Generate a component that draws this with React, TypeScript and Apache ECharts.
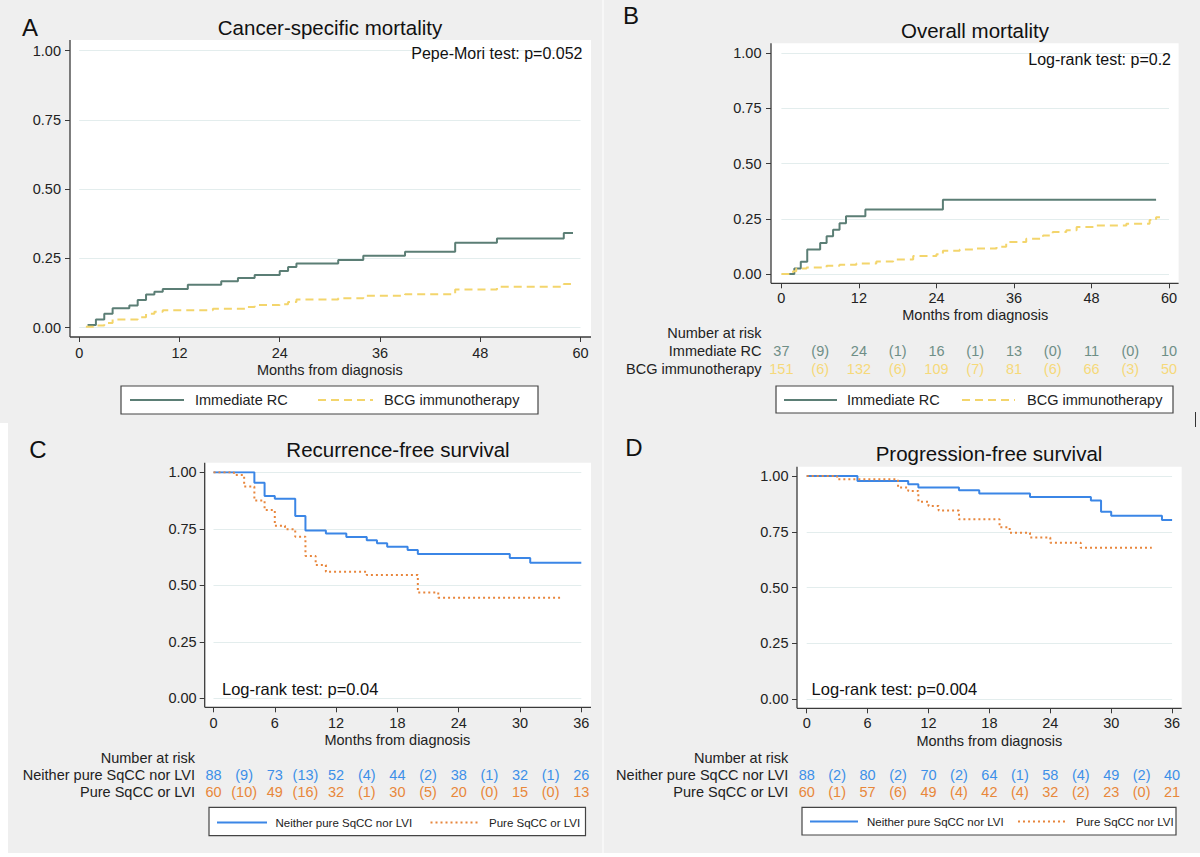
import React, { useEffect, useRef } from "react";
import * as echarts from "echarts";

const FONT = '"Liberation Sans", Arial, Helvetica, sans-serif';

// ---------- Panel A: Cancer-specific mortality (cumulative incidence) ----------
const aRcTime = [1, 2, 3, 4, 6, 7, 8, 9, 10, 13, 17, 19, 21, 24, 25, 26, 31, 34, 39, 45, 50, 58, 59.1];
const aRcValue = [0.01, 0.03, 0.05, 0.07, 0.08, 0.1, 0.12, 0.13, 0.14, 0.155, 0.168, 0.179, 0.19, 0.205, 0.219, 0.232, 0.244, 0.26, 0.274, 0.307, 0.322, 0.342, 0.342];
const aBcgTime = [0.8, 1.7, 3, 4, 7, 8, 9, 10, 16, 20, 21, 24, 25, 26, 31, 34, 39, 45, 50, 58, 59.1];
const aBcgValue = [0.003, 0.008, 0.017, 0.03, 0.038, 0.05, 0.058, 0.063, 0.068, 0.075, 0.082, 0.085, 0.093, 0.102, 0.106, 0.115, 0.121, 0.138, 0.148, 0.158, 0.158];

// ---------- Panel B: Overall mortality ----------
const bRcTime = [0.9, 2, 3, 4, 6, 7, 8, 9, 10, 13, 25, 58];
const bRcValue = [0, 0.025, 0.055, 0.111, 0.141, 0.171, 0.2, 0.23, 0.262, 0.292, 0.336, 0.336];
const bBcgTime = [0, 1.8, 2.3, 3.9, 7, 9, 11.6, 14.7, 17.3, 20.4, 24, 25, 27.6, 30.2, 33.3, 34.8, 37.9, 40.5, 42, 44.1, 45.7, 48.8, 53.4, 57, 58, 58.6];
const bBcgValue = [0, 0.012, 0.025, 0.03, 0.037, 0.042, 0.048, 0.057, 0.066, 0.081, 0.09, 0.105, 0.111, 0.115, 0.123, 0.145, 0.16, 0.175, 0.19, 0.198, 0.213, 0.22, 0.228, 0.245, 0.257, 0.257];

const riskBTicks = [0, 6, 12, 18, 24, 30, 36, 42, 48, 54, 60];
const riskBRc = ["37", "(9)", "24", "(1)", "16", "(1)", "13", "(0)", "11", "(0)", "10"];
const riskBBcg = ["151", "(6)", "132", "(6)", "109", "(7)", "81", "(6)", "66", "(3)", "50"];

// ---------- Panel C: Recurrence-free survival ----------
const cNeitherTime = [0, 4, 5, 6, 8, 9, 11, 13, 15, 16, 17, 19, 20, 29, 31, 36];
const cNeitherValue = [1, 0.954, 0.895, 0.883, 0.807, 0.742, 0.729, 0.714, 0.699, 0.686, 0.671, 0.656, 0.639, 0.621, 0.6, 0.6];
const cPureTime = [0, 2, 3, 4, 5, 6, 7, 8, 9, 10, 11, 15, 20, 22, 34];
const cPureValue = [1, 0.988, 0.937, 0.875, 0.833, 0.763, 0.748, 0.715, 0.63, 0.59, 0.56, 0.546, 0.468, 0.445, 0.445];

const riskCDTicks = [0, 3, 6, 9, 12, 15, 18, 21, 24, 27, 30, 33, 36];
const riskCNeither = ["88", "(9)", "73", "(13)", "52", "(4)", "44", "(2)", "38", "(1)", "32", "(1)", "26"];
const riskCPure = ["60", "(10)", "49", "(16)", "32", "(1)", "30", "(5)", "20", "(0)", "15", "(0)", "13"];

// ---------- Panel D: Progression-free survival ----------
const dNeitherTime = [0, 5, 10, 11, 15, 17, 22, 28, 29, 30, 35, 36];
const dNeitherValue = [1, 0.978, 0.963, 0.948, 0.936, 0.922, 0.906, 0.89, 0.84, 0.822, 0.803, 0.803];
const dPureTime = [0, 3, 9, 10, 11, 12, 13, 15, 19, 20, 22, 24, 27, 34];
const dPureValue = [1, 0.985, 0.948, 0.933, 0.885, 0.866, 0.845, 0.806, 0.77, 0.746, 0.725, 0.701, 0.679, 0.679];

const riskDNeither = ["88", "(2)", "80", "(2)", "70", "(2)", "64", "(1)", "58", "(4)", "49", "(2)", "40"];
const riskDPure = ["60", "(1)", "57", "(6)", "49", "(4)", "42", "(4)", "32", "(2)", "23", "(0)", "21"];

const yTicks = [0, 0.25, 0.5, 0.75, 1];

// colours
const GREEN = "#5b7e75";
const GREEN_TXT = "#6e8e86";
const YELLOW = "#f3d56c";
const YELLOW_TXT = "#f6d97a";
const BLUE = "#3b86e6";
const BLUE_TXT = "#3d8fe8";
const ORANGE = "#e8863c";
const ORANGE_TXT = "#e8873a";
const INK = "#222";

const pairs = (t: number[], v: number[]) => t.map((x, i) => [x, v[i]]);

// layout (pixel geometry)
const PANELS = [
  { box: { l: 70, r: 591, t: 40, b: 337 }, grid: { l: 79.2, r: 580.5, t: 50.7, b: 327.7 }, xMax: 60, xInt: 12, yMargin: 9, xMargin: 8.5, nameGap: 25 },
  { box: { l: 771, r: 1178.6, t: 43.3, b: 283.3 }, grid: { l: 781.4, r: 1169, t: 53.3, b: 274 }, xMax: 60, xInt: 12, yMargin: 9.5, xMargin: 7, nameGap: 24 },
  { box: { l: 204.7, r: 591, t: 462.7, b: 707.3 }, grid: { l: 213.5, r: 581.3, t: 472.3, b: 698.3 }, xMax: 36, xInt: 6, yMargin: 8, xMargin: 8.5, nameGap: 25 },
  { box: { l: 797, r: 1181.7, t: 466.7, b: 708.3 }, grid: { l: 806.7, r: 1172.1, t: 476, b: 699.3 }, xMax: 36, xInt: 6, yMargin: 8.5, xMargin: 7.5, nameGap: 25 },
];

function txt(x: number, y: number, text: string, size: number, fill: string, align = "left", vAlign = "middle", z = 20) {
  return {
    type: "text",
    x,
    y,
    z,
    silent: true,
    style: {
      text,
      fill,
      fontSize: size,
      fontFamily: FONT,
      align,
      verticalAlign: vAlign,
      textAlign: align,
      textVerticalAlign: vAlign,
    },
  };
}

function line(x1: number, y1: number, x2: number, y2: number, stroke: string, lineWidth: number, lineDash?: number[], z = 20) {
  return {
    type: "line",
    z,
    silent: true,
    shape: { x1, y1, x2, y2 },
    style: { stroke, lineWidth, lineDash: lineDash || null },
  };
}

function rect(x: number, y: number, w: number, h: number, fill: string, stroke?: string, z = 20) {
  return {
    type: "rect",
    z,
    silent: true,
    shape: { x, y, width: w, height: h },
    style: { fill, stroke: stroke || null, lineWidth: stroke ? 1.2 : 0 },
  };
}

export default function App() {
  const ref = useRef<HTMLDivElement>(null);

  useEffect(() => {
    if (!ref.current) return;
    const chart = echarts.init(ref.current, null, { renderer: "svg" });

    const grid = PANELS.map((p) => ({
      left: p.grid.l,
      top: p.grid.t,
      width: p.grid.r - p.grid.l,
      height: p.grid.b - p.grid.t,
      containLabel: false,
    }));

    const xAxis = PANELS.map((p, i) => ({
      type: "value",
      gridIndex: i,
      min: 0,
      max: p.xMax,
      interval: p.xInt,
      offset: p.box.b - p.grid.b,
      axisLine: { show: false, onZero: false },
      axisTick: { show: true, length: 5, lineStyle: { color: "#3a3a3a", width: 1 } },
      axisLabel: { fontSize: 14.5, color: INK, fontFamily: FONT, margin: p.xMargin },
      splitLine: { show: false },
      name: "Months from diagnosis",
      nameLocation: "middle",
      nameGap: p.nameGap,
      nameTextStyle: { fontSize: 14.5, color: INK, fontFamily: FONT, verticalAlign: "top" },
    }));

    const yAxis = PANELS.map((p, i) => ({
      type: "value",
      gridIndex: i,
      min: 0,
      max: 1,
      interval: 0.25,
      offset: p.grid.l - p.box.l,
      axisLine: { show: false, onZero: false },
      axisTick: { show: true, length: 5, lineStyle: { color: "#3a3a3a", width: 1 } },
      axisLabel: {
        fontSize: 14.5,
        color: INK,
        fontFamily: FONT,
        margin: p.yMargin,
        formatter: (v: number) => (yTicks.includes(v) ? v.toFixed(2) : ""),
      },
      splitLine: { show: true, lineStyle: { color: "#e3eded", width: 1 } },
    }));

    const mk = (name: string, idx: number, data: number[][], color: string, type: any) => ({
      type: "line",
      name,
      xAxisIndex: idx,
      yAxisIndex: idx,
      data,
      step: "end",
      showSymbol: false,
      symbol: "none",
      lineStyle: { color, width: 2, type },
      itemStyle: { color },
      z: 5,
    });

    const series = [
      mk("Immediate RC", 0, pairs(aRcTime, aRcValue), GREEN, "solid"),
      mk("BCG immunotherapy", 0, pairs(aBcgTime, aBcgValue), YELLOW, [8, 5]),
      mk("Immediate RC", 1, pairs(bRcTime, bRcValue), GREEN, "solid"),
      mk("BCG immunotherapy", 1, pairs(bBcgTime, bBcgValue), YELLOW, [8, 5]),
      mk("Neither pure SqCC nor LVI", 2, pairs(cNeitherTime, cNeitherValue), BLUE, "solid"),
      mk("Pure SqCC or LVI", 2, pairs(cPureTime, cPureValue), ORANGE, [2, 3]),
      mk("Neither pure SqCC nor LVI", 3, pairs(dNeitherTime, dNeitherValue), BLUE, "solid"),
      mk("Pure SqCC nor LVI", 3, pairs(dPureTime, dPureValue), ORANGE, [2, 3]),
    ];

    chart.setOption({
      animation: false,
      backgroundColor: "#efefef",
      grid,
      xAxis,
      yAxis,
      series,
    });

    const g: any[] = [];

    // page decorations
    g.push(line(603, 0, 603, 857, "#f7f7f7", 2, undefined, -20));
    g.push(rect(0, 423, 8, 434, "#ffffff", undefined, -20));
    g.push(rect(0, 853, 1200, 4, "#ffffff", undefined, -20));
    g.push(line(1195.5, 412, 1195.5, 427, "#333", 1));

    // plot boxes & axis lines
    PANELS.forEach((p) => {
      g.push(rect(p.box.l, p.box.t, p.box.r - p.box.l, p.box.b - p.box.t, "#ffffff", undefined, -10));
      g.push(line(p.box.l, p.box.t, p.box.l, p.box.b, "#3a3a3a", 1.3, undefined, 6));
      g.push(line(p.box.l, p.box.b, p.box.r, p.box.b, "#3a3a3a", 1.3, undefined, 6));
    });

    // panel letters
    g.push(txt(30, 27, "A", 24, "#111", "center"));
    g.push(txt(631, 15, "B", 24, "#111", "center"));
    g.push(txt(38, 449.5, "C", 24, "#111", "center"));
    g.push(txt(634, 447, "D", 24, "#111", "center"));

    // titles
    g.push(txt(330, 27, "Cancer-specific mortality", 20.5, "#111", "center"));
    g.push(txt(975, 30.5, "Overall mortality", 20.5, "#111", "center"));
    g.push(txt(398, 449, "Recurrence-free survival", 20.5, "#111", "center"));
    g.push(txt(989, 453, "Progression-free survival", 20.5, "#111", "center"));

    // test annotations
    g.push(txt(582.5, 53.5, "Pepe-Mori test: p=0.052", 16, "#111", "right"));
    g.push(txt(1171, 59.5, "Log-rank test: p=0.2", 16, "#111", "right"));
    g.push(txt(222, 688.5, "Log-rank test: p=0.04", 16.5, "#111", "left"));
    g.push(txt(811.6, 688.5, "Log-rank test: p=0.004", 16.5, "#111", "left"));

    // risk tables
    const riskTable = (
      axisIdx: number,
      ticks: number[],
      labelRight: number,
      rows: { label: string; values: string[]; color: string }[],
      yTop: number,
      yRows: number[]
    ) => {
      g.push(txt(labelRight, yTop, "Number at risk", 14.5, INK, "right"));
      rows.forEach((row, ri) => {
        g.push(txt(labelRight, yRows[ri], row.label, 14.5, INK, "right"));
        ticks.forEach((t, k) => {
          const px = chart.convertToPixel({ xAxisIndex: axisIdx } as any, t) as number;
          g.push(txt(px, yRows[ri], row.values[k], 14.5, row.color, "center"));
        });
      });
    };

    riskTable(1, riskBTicks, 761.5, [
      { label: "Immediate RC", values: riskBRc, color: GREEN_TXT },
      { label: "BCG immunotherapy", values: riskBBcg, color: YELLOW_TXT },
    ], 333, [351, 369]);

    riskTable(2, riskCDTicks, 195, [
      { label: "Neither pure SqCC nor LVI", values: riskCNeither, color: BLUE_TXT },
      { label: "Pure SqCC or LVI", values: riskCPure, color: ORANGE_TXT },
    ], 757.7, [775.3, 792.3]);

    riskTable(3, riskCDTicks, 788.3, [
      { label: "Neither pure SqCC nor LVI", values: riskDNeither, color: BLUE_TXT },
      { label: "Pure SqCC or LVI", values: riskDPure, color: ORANGE_TXT },
    ], 757.7, [775.3, 792.3]);

    // legends
    const legend = (
      box: { l: number; r: number; t: number; b: number },
      items: { x1: number; x2: number; tx: number; label: string; color: string; dash?: number[] }[],
      cy: number,
      size: number
    ) => {
      g.push(rect(box.l, box.t, box.r - box.l, box.b - box.t, "#ffffff", "#444", 20));
      items.forEach((it) => {
        g.push(line(it.x1, cy, it.x2, cy, it.color, 2, it.dash, 21));
        g.push(txt(it.tx, cy, it.label, size, INK, "left", "middle", 21));
      });
    };

    legend({ l: 121, r: 538, t: 386, b: 414 }, [
      { x1: 130, x2: 184, tx: 195, label: "Immediate RC", color: GREEN },
      { x1: 318, x2: 373, tx: 384, label: "BCG immunotherapy", color: YELLOW, dash: [8, 5] },
    ], 400, 14.5);

    legend({ l: 776, r: 1173, t: 386, b: 413 }, [
      { x1: 784, x2: 837, tx: 847, label: "Immediate RC", color: GREEN },
      { x1: 962, x2: 1015, tx: 1027, label: "BCG immunotherapy", color: YELLOW, dash: [8, 5] },
    ], 400, 14.5);

    legend({ l: 209, r: 585.5, t: 807.3, b: 835.7 }, [
      { x1: 217, x2: 267, tx: 275.5, label: "Neither pure SqCC nor LVI", color: BLUE },
      { x1: 430.5, x2: 479, tx: 489, label: "Pure SqCC or LVI", color: ORANGE, dash: [2, 3] },
    ], 822.5, 11.5);

    legend({ l: 802, r: 1176, t: 807.3, b: 835 }, [
      { x1: 810, x2: 858, tx: 867, label: "Neither pure SqCC nor LVI", color: BLUE },
      { x1: 1018, x2: 1066, tx: 1076, label: "Pure SqCC nor LVI", color: ORANGE, dash: [2, 3] },
    ], 821.5, 11.5);

    chart.setOption({ graphic: { elements: g } });

    return () => chart.dispose();
  }, []);

  return (
    <div
      ref={ref}
      style={{ position: "absolute", left: 0, top: 0, width: 1200, height: 857 }}
    />
  );
}
